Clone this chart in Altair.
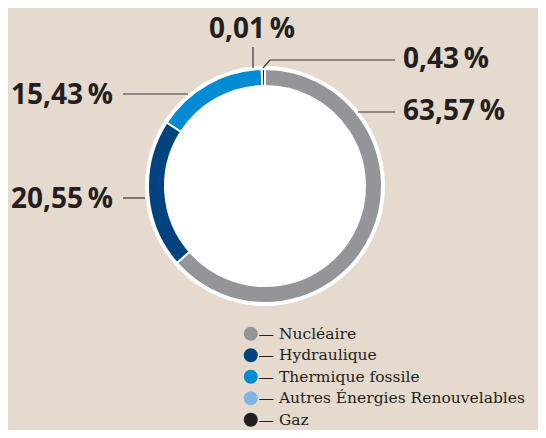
import altair as alt
import pandas as pd

# ---- data ----
categories = ["Nucléaire", "Hydraulique", "Thermique fossile",
              "Autres Énergies Renouvelables", "Gaz"]
shares = [63.57, 20.55, 15.43, 0.01, 0.43]
value_labels = ["63,57\u2009%", "20,55\u2009%", "15,43\u2009%", "0,01\u2009%", "0,43\u2009%"]

# ---- styles / layout ----
colors = ["#939598", "#00437f", "#008bd2", "#80b4e2", "#231f20"]
BG = "#e5dacd"
INK = "#231f20"
W, H = 530, 422
CX, CY = 257, 178          # donut centre (plot coords)
R_OUT, R_IN, R_BORDER = 117, 100, 120

# label anchor positions (plot coords, text baseline) and alignment
label_pos = [(395, 112, "left"), (105, 200, "right"), (105, 96, "right"),
             (244, 30, "center"), (395, 60, "left")]
# leader lines: (x, x2, y, y2)
leaders = [(350, 387, 104, 104),   # 63,57
           (115, 137, 190, 190),   # 20,55
           (115, 180, 86, 86),     # 15,43
           (245, 245, 39, 60),     # 0,01
           (255, 262, 60, 52),     # 0,43 diagonal
           (262, 387, 52, 52)]     # 0,43 horizontal

df = pd.DataFrame({"cat": categories, "share": shares,
                   "idx": list(range(len(categories)))})

disc = alt.Chart(pd.DataFrame({"v": [1]})).mark_arc(
    radius=R_BORDER, color="white", theta=0, theta2=6.2832
).encode(x=alt.value(CX), y=alt.value(CY))

donut = alt.Chart(df).mark_arc(
    radius=R_OUT, innerRadius=R_IN, stroke="white", strokeWidth=2
).encode(
    theta=alt.Theta("share:Q", stack=True),
    order=alt.Order("idx:Q"),
    color=alt.Color(
        "cat:N",
        scale=alt.Scale(domain=categories, range=colors),
        legend=alt.Legend(
            title=None, orient="none", legendX=235, legendY=318,
            symbolType="circle", symbolSize=196, symbolStrokeWidth=0,
            symbolOpacity=1,
            labelFont="DejaVu Serif", labelFontSize=15.5, labelColor=INK,
            labelExpr="'— ' + datum.label", labelLimit=400,
            rowPadding=4.5, labelOffset=0,
        ),
    ),
    x=alt.value(CX), y=alt.value(CY),
)

layers = [disc, donut]

for (x, x2, y, y2) in leaders:
    layers.append(
        alt.Chart(pd.DataFrame({"v": [1]})).mark_rule(
            color="#3a3536", strokeWidth=1.2
        ).encode(x=alt.value(x), x2=alt.value(x2), y=alt.value(y), y2=alt.value(y2))
    )

for txt, (px, py, al) in zip(value_labels, label_pos):
    layers.append(
        alt.Chart(pd.DataFrame({"t": [txt]})).mark_text(
            font="Open Sans", fontWeight="bold", fontSize=28, color=INK,
            align=al, baseline="alphabetic"
        ).encode(text="t:N", x=alt.value(px), y=alt.value(py))
    )

chart = alt.layer(*layers).properties(
    width=W, height=H, autosize=alt.AutoSizeParams(type="none"), padding=0
).configure(background=BG).configure_view(stroke=None)

chart.save("out.html", embed_options={"renderer": "svg", "actions": False})
